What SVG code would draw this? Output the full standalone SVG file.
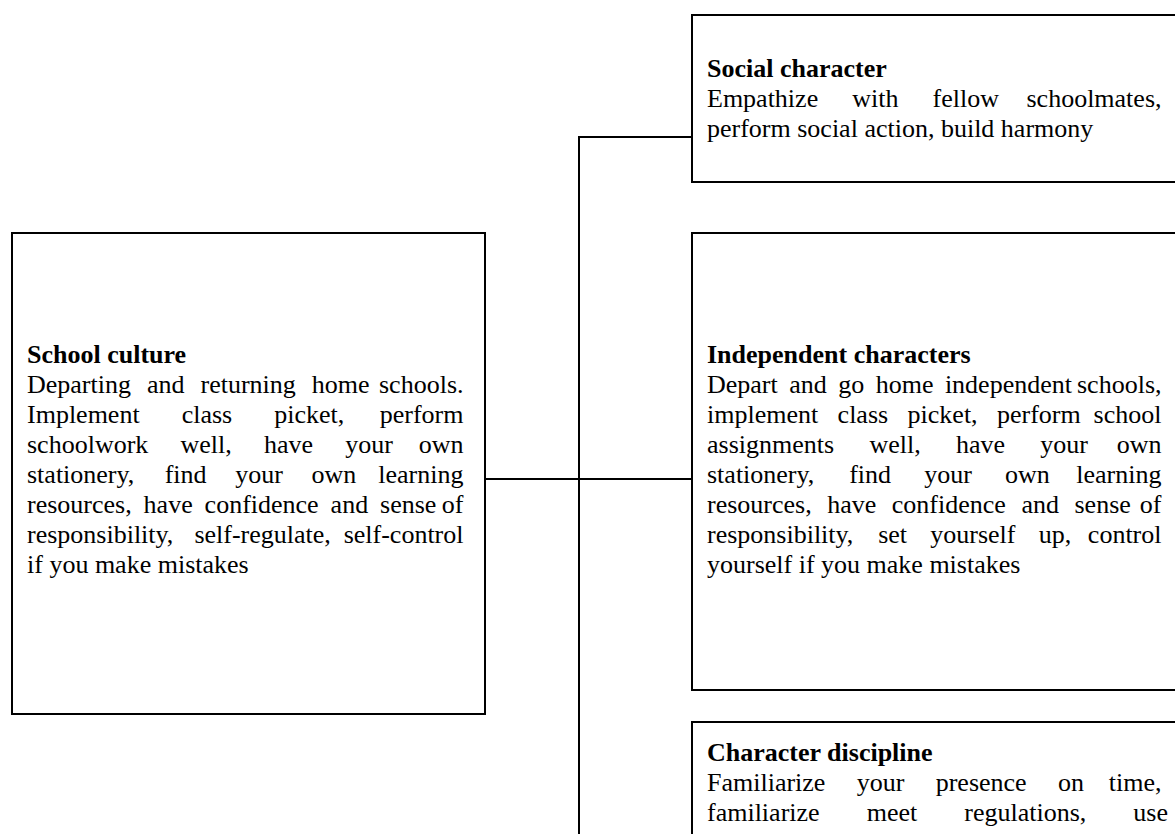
<svg xmlns="http://www.w3.org/2000/svg" width="1175" height="834" viewBox="0 0 1175 834">
<style>
.box{fill:#fff;stroke:#000;stroke-width:2}
.con{fill:none;stroke:#000;stroke-width:2}
text{font-family:"Liberation Serif","Times New Roman",serif;font-size:26px;fill:#000}
.t{font-weight:bold}
.e{text-anchor:end}
</style>
<rect width="1175" height="834" fill="#fff"/>
<g id="connectors">
<polyline class="con" points="692,137 579,137 579,836"/>
<line class="con" x1="485" y1="479" x2="692" y2="479"/>
</g>
<g id="school-culture">
<rect class="box" x="12" y="233" width="473" height="481"/>
<text class="t" x="27" y="363">School culture</text>
<text>
<tspan x="27" y="393">Departing</tspan><tspan x="146.9" y="393">and</tspan><tspan x="200.5" y="393">returning</tspan><tspan x="311.7" y="393">home</tspan><tspan class="e" x="470" y="393">schools.</tspan>
<tspan x="27" y="423">Implement</tspan><tspan x="181.7" y="423">class</tspan><tspan x="274.2" y="423">picket,</tspan><tspan class="e" x="470" y="423">perform</tspan>
<tspan x="27" y="453">schoolwork</tspan><tspan x="180.5" y="453">well,</tspan><tspan x="264" y="453">have</tspan><tspan x="345.3" y="453">your</tspan><tspan class="e" x="470" y="453">own</tspan>
<tspan x="27" y="483">stationery,</tspan><tspan x="164.7" y="483">find</tspan><tspan x="235.2" y="483">your</tspan><tspan x="311.4" y="483">own</tspan><tspan class="e" x="470" y="483">learning</tspan>
<tspan x="27" y="513">resources,</tspan><tspan x="143.6" y="513">have</tspan><tspan x="204.6" y="513">confidence</tspan><tspan x="330.6" y="513">and</tspan><tspan x="380.1" y="513">sense</tspan><tspan class="e" x="470" y="513">of</tspan>
<tspan x="27" y="543">responsibility,</tspan><tspan x="194.4" y="543">self-regulate,</tspan><tspan class="e" x="470" y="543">self-control</tspan>
<tspan x="27" y="573">if you make mistakes</tspan>
</text>
</g>
<g id="social-character">
<rect class="box" x="692" y="15" width="500" height="167"/>
<text class="t" x="707" y="77">Social character</text>
<text>
<tspan x="707" y="107">Empathize</tspan><tspan x="852.2" y="107">with</tspan><tspan x="932.5" y="107">fellow</tspan><tspan class="e" x="1168" y="107">schoolmates,</tspan>
<tspan x="707" y="137">perform social action, build harmony</tspan>
</text>
</g>
<g id="independent-characters">
<rect class="box" x="692" y="233" width="500" height="457"/>
<text class="t" x="707" y="363">Independent characters</text>
<text>
<tspan x="707" y="393">Depart</tspan><tspan x="789.2" y="393">and</tspan><tspan x="838.2" y="393">go</tspan><tspan x="875.7" y="393">home</tspan><tspan x="944.9" y="393">independent</tspan><tspan class="e" x="1168" y="393">schools,</tspan>
<tspan x="707" y="423">implement</tspan><tspan x="837.6" y="423">class</tspan><tspan x="907.6" y="423">picket,</tspan><tspan x="997" y="423">perform</tspan><tspan class="e" x="1168" y="423">school</tspan>
<tspan x="707" y="453">assignments</tspan><tspan x="869.4" y="453">well,</tspan><tspan x="955.9" y="453">have</tspan><tspan x="1040.3" y="453">your</tspan><tspan class="e" x="1168" y="453">own</tspan>
<tspan x="707" y="483">stationery,</tspan><tspan x="849.2" y="483">find</tspan><tspan x="924.2" y="483">your</tspan><tspan x="1004.9" y="483">own</tspan><tspan class="e" x="1168" y="483">learning</tspan>
<tspan x="707" y="513">resources,</tspan><tspan x="827.2" y="513">have</tspan><tspan x="891.8" y="513">confidence</tspan><tspan x="1021.4" y="513">and</tspan><tspan x="1074.5" y="513">sense</tspan><tspan class="e" x="1168" y="513">of</tspan>
<tspan x="707" y="543">responsibility,</tspan><tspan x="878.2" y="543">set</tspan><tspan x="930.3" y="543">yourself</tspan><tspan x="1038.7" y="543">up,</tspan><tspan class="e" x="1168" y="543">control</tspan>
<tspan x="707" y="573">yourself if you make mistakes</tspan>
</text>
</g>
<g id="character-discipline">
<rect class="box" x="692" y="722" width="500" height="150"/>
<text class="t" x="707" y="761">Character discipline</text>
<text>
<tspan x="707" y="791">Familiarize</tspan><tspan x="856.7" y="791">your</tspan><tspan x="935.7" y="791">presence</tspan><tspan x="1058" y="791">on</tspan><tspan class="e" x="1168" y="791">time,</tspan>
<tspan x="707" y="821">familiarize</tspan><tspan x="866.7" y="821">meet</tspan><tspan x="964.3" y="821">regulations,</tspan><tspan class="e" x="1168" y="821">use</tspan>
</text>
</g>
</svg>
